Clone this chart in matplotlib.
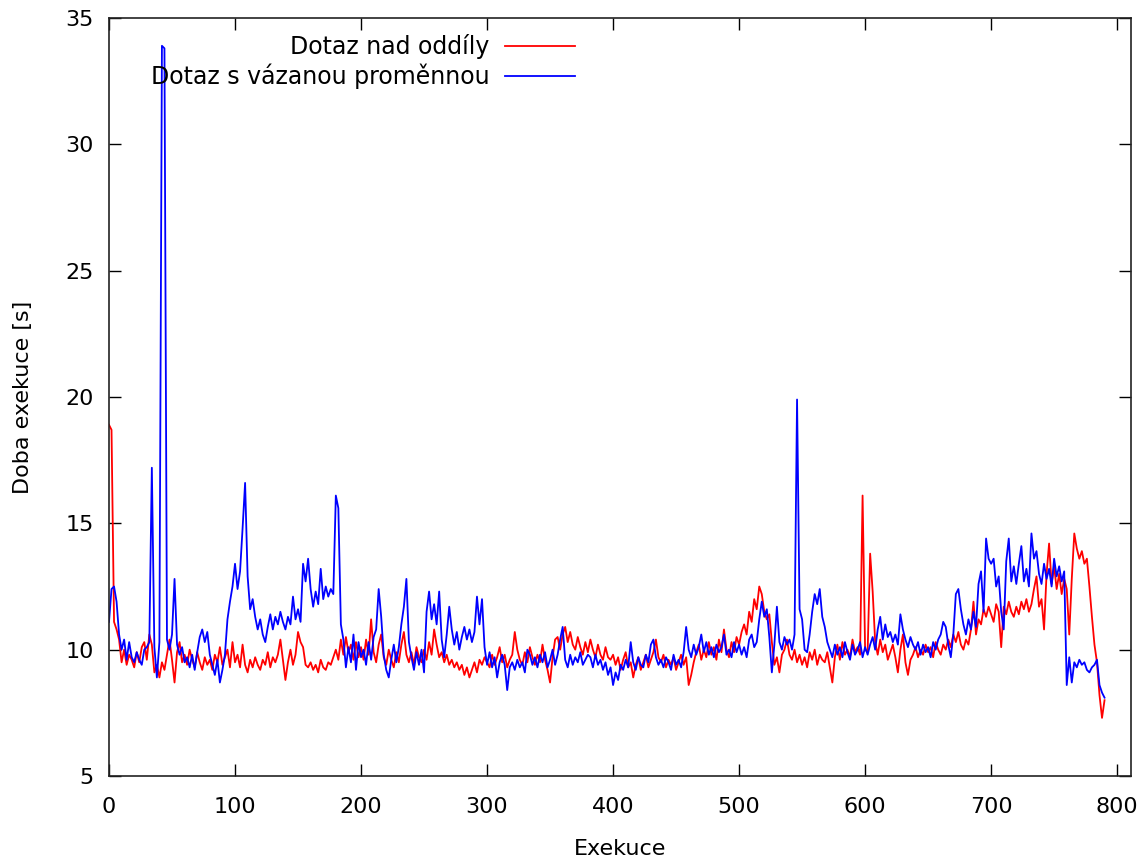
import numpy as np
import matplotlib
matplotlib.use("Agg")
import matplotlib.pyplot as plt

# Execution time [s], one value every 2 executions (x = 0, 2, 4, ...)
red_vals = [
    18.9, 18.7, 11.1, 10.8, 10.4, 9.5, 10.0, 9.4, 9.8, 9.6,
    9.3, 9.9, 9.5, 10.1, 10.3, 9.6, 10.6, 10.2, 9.1, 9.4,
    8.9, 9.5, 9.2, 9.8, 10.4, 9.6, 8.7, 9.9, 10.3, 9.5,
    9.8, 9.4, 10.0, 9.6, 9.3, 9.9, 9.5, 9.2, 9.7, 9.4,
    9.6, 9.2, 9.8, 9.5, 10.1, 9.4, 9.7, 10.0, 9.3, 10.3,
    9.5, 9.8, 9.3, 10.2, 9.4, 9.1, 9.6, 9.3, 9.7, 9.4,
    9.2, 9.6, 9.4, 9.9, 9.3, 9.7, 9.5, 9.8, 10.4, 9.6,
    8.8, 9.5, 10.0, 9.4, 9.8, 10.7, 10.3, 10.1, 9.4, 9.3,
    9.5, 9.2, 9.4, 9.1, 9.6, 9.3, 9.2, 9.5, 9.4, 9.7,
    10.0, 9.6, 10.4, 9.8, 10.5, 9.9, 10.2, 9.6, 10.3, 9.7,
    10.1, 9.6, 10.4, 9.8, 11.2, 9.9, 9.5, 10.2, 10.6, 9.7,
    9.4, 10.0, 9.6, 9.3, 9.9, 9.5, 10.2, 10.7, 9.8, 9.5,
    9.9, 9.4, 10.1, 9.7, 9.5, 10.0, 9.6, 10.3, 9.8, 10.8,
    10.2, 9.7, 9.9, 9.5, 9.8, 9.4, 9.6, 9.3, 9.5, 9.2,
    9.4, 9.0, 9.3, 8.9, 9.2, 9.5, 9.1, 9.6, 9.4, 9.7,
    9.5, 9.3, 9.8, 9.4, 9.7, 10.1, 9.5, 9.8, 9.3, 9.6,
    9.8, 10.7, 10.0, 9.6, 9.4, 9.9, 9.5, 10.1, 9.7, 9.4,
    9.8, 9.5, 10.2, 9.6, 9.2, 8.7, 9.7, 10.4, 10.5, 10.0,
    10.6, 10.9, 10.3, 10.7, 10.2, 10.0, 10.5, 10.1, 9.8, 10.3,
    9.9, 10.4, 10.0, 9.7, 10.2, 9.8, 9.6, 10.1, 9.7, 9.6,
    9.8, 9.4, 9.7, 9.2, 9.6, 9.9, 9.3, 9.5, 8.9, 9.4,
    9.7, 9.2, 9.5, 9.8, 9.3, 9.6, 9.9, 10.4, 9.7, 9.5,
    9.8, 9.3, 9.6, 9.4, 9.7, 9.2, 9.5, 9.8, 9.4, 9.7,
    8.6, 9.0, 9.5, 9.9, 10.2, 9.6, 10.0, 9.7, 10.3, 9.8,
    10.1, 9.6, 10.4, 9.9, 10.8, 10.0, 9.7, 10.3, 9.9, 10.5,
    10.2, 10.7, 11.0, 10.6, 11.5, 11.1, 12.0, 11.6, 12.5, 12.2,
    11.5, 11.2, 11.4, 10.3, 9.4, 9.7, 9.1, 9.8, 10.0, 10.4,
    9.8, 9.6, 10.0, 9.5, 9.8, 9.4, 9.7, 9.3, 9.9, 9.6,
    10.0, 9.4, 9.8, 9.6, 9.5, 9.9, 9.3, 8.7, 9.7, 10.2,
    9.6, 10.3, 9.8, 10.0, 9.7, 10.4, 9.9, 10.1, 9.8, 16.1,
    10.0, 9.9, 13.8, 12.3, 10.3, 9.8, 10.4, 9.9, 10.2, 9.6,
    9.9, 10.2, 9.7, 9.1, 10.0, 10.6, 9.5, 9.0, 9.6, 9.8,
    10.1, 9.7, 10.0, 9.8, 10.2, 9.9, 10.1, 9.7, 10.3, 10.0,
    9.8, 10.2, 10.0, 10.4, 10.1, 10.6, 10.3, 10.7, 10.2, 10.0,
    10.4, 10.2, 10.8, 11.9, 10.6, 11.2, 11.0, 11.6, 11.3, 11.7,
    11.4, 11.1, 11.8, 11.5, 10.1, 11.7, 11.4, 11.9, 11.5, 11.3,
    11.7, 11.4, 11.9, 11.6, 12.0, 11.5, 11.8, 12.4, 12.9, 11.7,
    12.0, 10.8, 13.0, 14.2, 12.6, 13.3, 12.4, 13.0, 12.2, 12.8,
    12.4, 10.6, 12.8, 14.6, 14.0, 13.6, 13.9, 13.4, 13.6, 12.5,
    11.3, 10.2, 9.5, 8.2, 7.3, 8.0,
]

blue_vals = [
    11.1, 12.4, 12.5, 11.9, 10.6, 10.0, 10.4, 9.6, 10.3, 9.7,
    9.5, 9.9, 9.6, 9.4, 10.0, 10.1, 10.3, 17.2, 10.1, 8.9,
    10.3, 33.9, 33.8, 10.4, 10.0, 10.6, 12.8, 10.2, 9.8, 10.1,
    9.5, 9.7, 9.3, 9.8, 9.2, 9.9, 10.5, 10.8, 10.3, 10.7,
    9.8, 9.4, 9.0, 9.6, 8.7, 9.2, 9.8, 11.2, 11.9, 12.5,
    13.4, 12.4, 13.1, 14.8, 16.6, 12.9, 11.6, 12.0, 11.3, 10.8,
    11.2, 10.6, 10.3, 10.9, 11.4, 10.8, 11.3, 11.0, 11.5, 11.1,
    10.8, 11.3, 11.0, 12.1, 11.2, 11.6, 11.1, 13.4, 12.7, 13.6,
    12.4, 11.7, 12.3, 11.8, 13.2, 12.0, 12.5, 12.1, 12.4, 12.2,
    16.1, 15.6, 11.0, 10.4, 9.3, 10.1, 9.5, 10.6, 9.2, 10.3,
    9.7, 10.0, 9.4, 10.3, 9.6, 10.5, 10.8, 12.4, 11.3, 9.8,
    9.2, 8.9, 9.6, 10.2, 9.5, 10.1, 11.0, 11.7, 12.8, 10.3,
    9.7, 9.2, 9.9, 9.4, 10.0, 9.1, 11.5, 12.3, 11.2, 11.8,
    11.0, 12.3, 10.4, 9.7, 10.6, 11.7, 10.8, 10.2, 10.7, 10.0,
    10.5, 10.9, 10.4, 10.8, 10.3, 10.7, 12.1, 11.0, 12.0, 10.1,
    9.4, 9.9, 9.3, 9.7, 8.9, 9.5, 9.8, 9.4, 8.4, 9.3,
    9.5, 9.2, 9.6, 9.3, 9.5, 9.1, 10.0, 9.8, 9.4, 9.7,
    9.3, 9.8, 9.5, 9.9, 9.3, 9.6, 10.0, 9.4, 9.8, 10.4,
    10.9, 9.6, 9.3, 9.8, 9.4, 9.7, 9.5, 9.9, 9.4, 9.6,
    9.8, 9.7, 9.3, 9.8, 9.4, 9.6, 9.2, 9.5, 9.0, 9.3,
    8.6, 9.1, 8.8, 9.4, 9.2, 9.6, 9.3, 10.3, 9.5, 9.2,
    9.7, 9.4, 9.3, 9.8, 9.5, 10.2, 10.4, 9.7, 9.4, 9.6,
    9.3, 9.7, 9.5, 9.2, 9.8, 9.4, 9.6, 9.3, 9.9, 10.9,
    10.0, 9.7, 10.2, 9.8, 10.1, 10.6, 9.9, 10.3, 9.8, 10.1,
    9.7, 10.2, 9.9, 10.1, 10.6, 9.8, 10.0, 9.7, 10.3, 9.9,
    10.2, 9.8, 10.1, 9.7, 10.4, 10.6, 10.1, 10.3, 11.2, 11.9,
    11.3, 11.6, 10.5, 9.1, 10.2, 11.7, 10.3, 10.0, 10.5, 10.2,
    10.4, 10.0, 10.6, 19.9, 11.6, 11.2, 10.0, 9.9, 10.6, 11.5,
    12.2, 11.8, 12.4, 11.3, 10.9, 10.3, 10.0, 9.7, 10.2, 9.8,
    10.1, 9.7, 10.3, 9.9, 9.6, 10.2, 9.8, 10.0, 10.3, 9.7,
    10.1, 9.8, 10.2, 10.5, 10.0, 10.8, 11.3, 10.4, 11.0, 10.5,
    10.7, 10.3, 10.6, 10.2, 11.4, 10.8, 10.4, 10.1, 10.5, 10.2,
    10.0, 10.3, 9.8, 10.2, 9.9, 10.1, 9.7, 10.3, 10.0, 10.4,
    10.6, 11.1, 10.9, 10.2, 9.7, 10.6, 12.2, 12.4, 11.6, 11.0,
    10.6, 11.2, 10.8, 11.5, 10.9, 12.6, 13.1, 11.5, 14.4, 13.6,
    13.4, 13.6, 12.5, 12.9, 11.5, 10.8, 13.5, 14.4, 12.7, 13.3,
    12.6, 13.4, 14.1, 12.7, 13.2, 12.5, 14.6, 13.6, 13.9, 13.0,
    12.6, 13.4, 12.8, 13.2, 12.5, 13.6, 12.9, 13.3, 12.7, 13.1,
    8.6, 9.7, 8.7, 9.5, 9.3, 9.6, 9.4, 9.5, 9.2, 9.1,
    9.3, 9.4, 9.6, 8.6, 8.3, 8.1,
]

label_red = "Dotaz nad oddíly"
label_blue = "Dotaz s vázanou proměnnou"
x_label = "Exekuce"
y_label = "Doba exekuce [s]"
x_ticks = [0, 100, 200, 300, 400, 500, 600, 700, 800]
y_ticks = [5, 10, 15, 20, 25, 30, 35]

x_red = np.arange(len(red_vals)) * 2
x_blue = np.arange(len(blue_vals)) * 2

plt.rcParams['font.family'] = ['DejaVu Sans']
W, H = 1145, 860
fig = plt.figure(figsize=(W / 100, H / 100), dpi=100)
ax = fig.add_axes([109 / W, 1 - 776 / H, (1131 - 109) / W, (776 - 18) / H])

ax.plot(x_red, red_vals, color='#ff0000', lw=1.3, label=label_red)
ax.plot(x_blue, blue_vals, color='#0000ff', lw=1.3, label=label_blue)

ax.set_xlim(0, 811)
ax.set_ylim(5, 35)
ax.set_xticks(x_ticks)
ax.set_yticks(y_ticks)
ax.tick_params(direction='in', length=8.5, width=1.0, top=True, right=True,
               labelsize=16, colors='black')
ax.tick_params(axis='x', pad=15)
ax.tick_params(axis='y', pad=11)
for s in ax.spines.values():
    s.set_linewidth(1.2)
    s.set_color('#222222')

ax.set_xlabel(x_label, fontsize=16, labelpad=16)
ax.set_ylabel(y_label, fontsize=16, labelpad=23)

leg = ax.legend(loc='upper right', bbox_to_anchor=(575 / W, 1 - 34 / H),
                bbox_transform=fig.transFigure, frameon=False,
                markerfirst=False, fontsize=17, handlelength=2.97,
                handletextpad=0.64, labelspacing=0.2, borderaxespad=0,
                borderpad=0)

fig.savefig('out.png', dpi=100)
